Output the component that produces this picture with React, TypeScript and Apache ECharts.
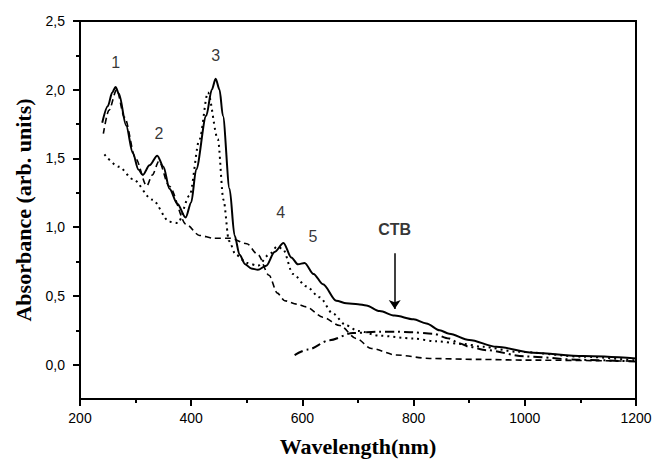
import React, { useEffect, useRef } from "react";
import * as echarts from "echarts";

// Solid curve (wavelength nm, absorbance)
const solidWl = [240, 250, 258, 264, 270, 283, 295, 305, 313, 325, 339, 350, 361, 375, 390, 400, 409, 427, 437, 444, 451, 457, 469, 478, 487, 497, 508, 520, 535, 550, 566, 580, 592, 604, 620, 637, 661, 679, 700, 715, 739, 766, 800, 823, 847, 864, 900, 949, 1015, 1105, 1200];
const solidAbs = [1.76, 1.88, 1.98, 2.02, 1.97, 1.74, 1.54, 1.42, 1.38, 1.45, 1.52, 1.44, 1.28, 1.17, 1.07, 1.18, 1.42, 1.81, 2.0, 2.08, 2.0, 1.81, 1.28, 0.94, 0.8, 0.73, 0.7, 0.69, 0.72, 0.82, 0.885, 0.78, 0.73, 0.74, 0.66, 0.585, 0.465, 0.446, 0.44, 0.43, 0.39, 0.357, 0.33, 0.3, 0.25, 0.225, 0.18, 0.13, 0.086, 0.062, 0.045];

// Dashed curve
const dashedWl = [242, 252, 266, 280, 300, 320, 330, 342, 360, 391, 415, 440, 470, 500, 520, 540, 555, 568, 590, 607, 637, 667, 697, 724, 769, 829, 919, 1000, 1200];
const dashedAbs = [1.68, 1.85, 2.0, 1.8, 1.5, 1.3, 1.38, 1.48, 1.3, 1.02, 0.94, 0.92, 0.92, 0.88, 0.8, 0.65, 0.52, 0.465, 0.44, 0.42, 0.345, 0.285, 0.19, 0.117, 0.07, 0.045, 0.038, 0.033, 0.025];

// Dotted curve
const dottedWl = [244, 270, 295, 330, 361, 376, 397, 415, 430, 448, 458, 468, 480, 500, 520, 540, 555, 565, 583, 607, 631, 655, 679, 700, 739, 799, 841, 889, 925, 985, 1105, 1200];
const dottedAbs = [1.53, 1.44, 1.35, 1.2, 1.04, 1.03, 1.23, 1.64, 1.98, 1.64, 1.2, 0.9, 0.8, 0.74, 0.72, 0.8, 0.86, 0.84, 0.66, 0.57, 0.49, 0.37, 0.285, 0.245, 0.21, 0.19, 0.17, 0.15, 0.13, 0.094, 0.058, 0.03];

// Dash-dot curve (CTB)
const dashDotWl = [586, 610, 649, 691, 739, 769, 799, 835, 864, 883, 900, 931, 1000, 1100, 1200];
const dashDotAbs = [0.07, 0.11, 0.178, 0.23, 0.24, 0.24, 0.235, 0.225, 0.19, 0.153, 0.13, 0.105, 0.06, 0.035, 0.022];

// Peak annotations
const peakLabels = ["1", "2", "3", "4", "5"];
const peakLabelWl = [264, 342, 444, 561, 619];
const peakLabelAbs = [2.2, 1.68, 2.25, 1.11, 0.935];

const ctbLabel = "CTB";
const ctbWl = 766;
const ctbTextAbs = 0.98;
const ctbArrowFrom = 0.81;
const ctbArrowTo = 0.405;

const yMajor = [0, 0.5, 1.0, 1.5, 2.0, 2.5];
const yMinor = [0.25, 0.75, 1.25, 1.75, 2.25];

const zip = (xs: number[], ys: number[]) => xs.map((x, i) => [x, ys[i]]);

export default function App() {
  const ref = useRef<HTMLDivElement>(null);
  useEffect(() => {
    document.body.style.margin = "0";
    if (!ref.current) return;
    const chart = echarts.init(ref.current, undefined, { renderer: "svg" });
    const sans = "'Liberation Sans', Arial, sans-serif";
    const serif = "'Liberation Serif', 'Times New Roman', serif";
    chart.setOption({
      animation: false,
      backgroundColor: "#fff",
      grid: {
        left: 80,
        right: 19,
        top: 21,
        bottom: 59,
        show: true,
        borderColor: "#000",
        borderWidth: 2,
        containLabel: false,
      },
      xAxis: {
        type: "value",
        min: 200,
        max: 1200,
        interval: 200,
        name: "Wavelength(nm)",
        nameLocation: "middle",
        nameGap: 36,
        nameTextStyle: { fontFamily: serif, fontWeight: "bold", fontSize: 22, color: "#000" },
        axisLine: { show: true, onZero: false, lineStyle: { color: "#000", width: 2 } },
        axisTick: { show: true, length: 7, lineStyle: { color: "#000", width: 2 } },
        minorTick: { show: true, splitNumber: 2, length: 4, lineStyle: { color: "#000", width: 2 } },
        axisLabel: {
          fontFamily: sans,
          fontSize: 14,
          color: "#000",
          margin: 12,
          formatter: (v: number) => String(v),
        },
        splitLine: { show: false },
      },
      yAxis: [
        {
          type: "value",
          min: -0.25,
          max: 2.5,
          name: "Absorbance (arb. units)",
          nameLocation: "middle",
          nameGap: 39,
          nameRotate: 90,
          nameTextStyle: { fontFamily: serif, fontWeight: "bold", fontSize: 22, color: "#000" },
          axisLine: { show: true, onZero: false, lineStyle: { color: "#000", width: 2 } },
          axisTick: { show: true, length: 7, customValues: yMajor, lineStyle: { color: "#000", width: 2 } },
          axisLabel: {
            customValues: yMajor,
            fontFamily: sans,
            fontSize: 14,
            color: "#000",
            margin: 15,
            formatter: (v: number) => v.toFixed(1).replace(".", ","),
          },
          splitLine: { show: false },
        },
        {
          type: "value",
          min: -0.25,
          max: 2.5,
          position: "left",
          axisLine: { show: false },
          axisTick: { show: true, length: 4, customValues: yMinor, lineStyle: { color: "#000", width: 2 } },
          axisLabel: { show: false },
          splitLine: { show: false },
        },
      ],
      series: [
        {
          type: "line",
          name: "dashdot",
          data: zip(dashDotWl, dashDotAbs),
          showSymbol: false,
          smooth: 0.3,
          smoothMonotone: "x",
          lineStyle: { color: "#000", width: 2, type: [9, 4, 2, 4] },
          z: 2,
        },
        {
          type: "line",
          name: "dotted",
          data: zip(dottedWl, dottedAbs),
          showSymbol: false,
          smooth: 0.3,
          smoothMonotone: "x",
          lineStyle: { color: "#000", width: 2, type: [2, 4] },
          z: 3,
        },
        {
          type: "line",
          name: "dashed",
          data: zip(dashedWl, dashedAbs),
          showSymbol: false,
          smooth: 0.3,
          smoothMonotone: "x",
          lineStyle: { color: "#000", width: 1.6, type: [6, 4] },
          z: 4,
        },
        {
          type: "line",
          name: "solid",
          data: zip(solidWl, solidAbs),
          showSymbol: false,
          smooth: 0.3,
          smoothMonotone: "x",
          lineStyle: { color: "#000", width: 2, type: "solid" },
          z: 5,
          markLine: {
            silent: true,
            symbol: ["none", "arrow"],
            symbolSize: 9,
            label: { show: false },
            lineStyle: { color: "#000", width: 1.5, type: "solid" },
            data: [[{ coord: [ctbWl, ctbArrowFrom] }, { coord: [ctbWl, ctbArrowTo] }]],
          },
        },
        {
          type: "scatter",
          name: "labels",
          symbolSize: 0,
          silent: true,
          itemStyle: { color: "#000" },
          data: [
            ...peakLabels.map((t, i) => ({
              value: [peakLabelWl[i], peakLabelAbs[i]],
              label: { formatter: t, fontWeight: "normal", color: "#000" },
            })),
            { value: [ctbWl, ctbTextAbs], label: { formatter: ctbLabel, fontWeight: "bold", color: "#000" } },
          ],
          label: {
            show: true,
            position: "inside",
            fontFamily: sans,
            fontSize: 16,
            color: "#000",
            textBorderWidth: 0,
          },
          z: 6,
        },
      ],
    });
    return () => chart.dispose();
  }, []);
  return <div ref={ref} style={{ width: 655, height: 462 }} />;
}
